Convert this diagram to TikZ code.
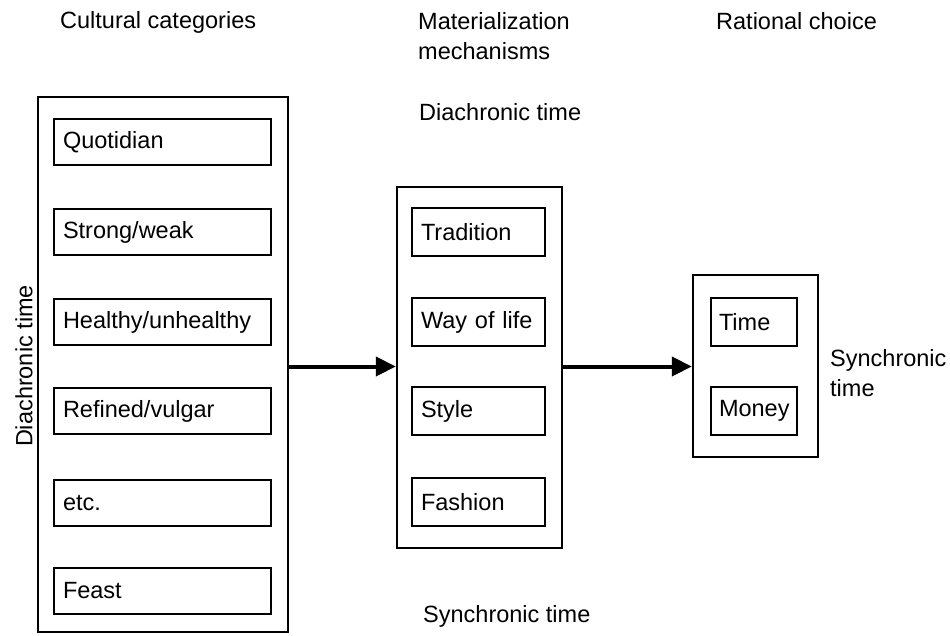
\documentclass[tikz,border=0pt]{standalone}
\usepackage{fontspec}
\setmainfont{Liberation Sans}
\usetikzlibrary{arrows.meta}

\begin{document}
\begin{tikzpicture}[x=1pt,y=-1pt,
  every node/.style={font=\fontsize{23.5}{30}\selectfont, inner sep=0pt},
  outerbox/.style={draw, line width=2.4pt},
  itembox/.style={draw, line width=1.8pt, minimum height=46pt, inner sep=9pt, align=left},
  catbox/.style={itembox, text width=199pt},
  mechbox/.style={itembox, text width=115pt, minimum height=48pt},
  choicebox/.style={itembox, text width=70pt, minimum height=48pt, inner sep=8pt},
  heading/.style={anchor=base west, align=left},
  flow/.style={line width=4pt, -{Triangle[length=20pt, width=19pt]}}
]
\useasboundingbox (0,0) rectangle (950,635);

% column headings (two-line nodes sit on the baseline of their last line)
\node[heading] (hcult) at (60,28) {Cultural categories};
\node[heading] (hmat) at (418,59) {Materialization\\mechanisms};
\node[heading] (hrat) at (716,29) {Rational choice};
\node[heading] (dtop) at (419,120) {Diachronic time};

% cultural categories
\node[outerbox, minimum width=250pt, minimum height=535pt] (cult) at (163,364.5) {};
\node[catbox] (c1) at (162.5,142) {Quotidian};
\node[catbox] (c2) at (162.5,232) {Strong/weak};
\node[catbox] (c3) at (162.5,322) {Healthy/unhealthy};
\node[catbox] (c4) at (162.5,411) {Refined/vulgar};
\node[catbox] (c5) at (162.5,503) {etc.};
\node[catbox] (c6) at (162.5,591) {Feast};
\node[rotate=90] (dleft) at (24,366) {Diachronic time};

% materialization mechanisms
\node[outerbox, minimum width=165pt, minimum height=361pt] (mat) at (479.5,367.5) {};
\node[mechbox] (m1) at (478.5,232) {Tradition};
\node[mechbox] (m2) at (478.5,322) {Way of life};
\node[mechbox] (m3) at (478.5,411) {Style};
\node[mechbox] (m4) at (478.5,502) {Fashion};
\node[heading] (sbot) at (423,622) {Synchronic time};

% rational choice
\node[outerbox, minimum width=125pt, minimum height=182pt] (rat) at (755.5,366) {};
\node[choicebox] (r1) at (754,322) {Time};
\node[choicebox] (r2) at (754,411) {Money};
\node[heading] (sright) at (830,396) {Synchronic\\time};

% flow between the stages
\draw[flow] (cult.east |- 0,366.5) -- (mat.west |- 0,366.5);
\draw[flow] (mat.east |- 0,366.5) -- (rat.west |- 0,366.5);
\end{tikzpicture}
\end{document}
